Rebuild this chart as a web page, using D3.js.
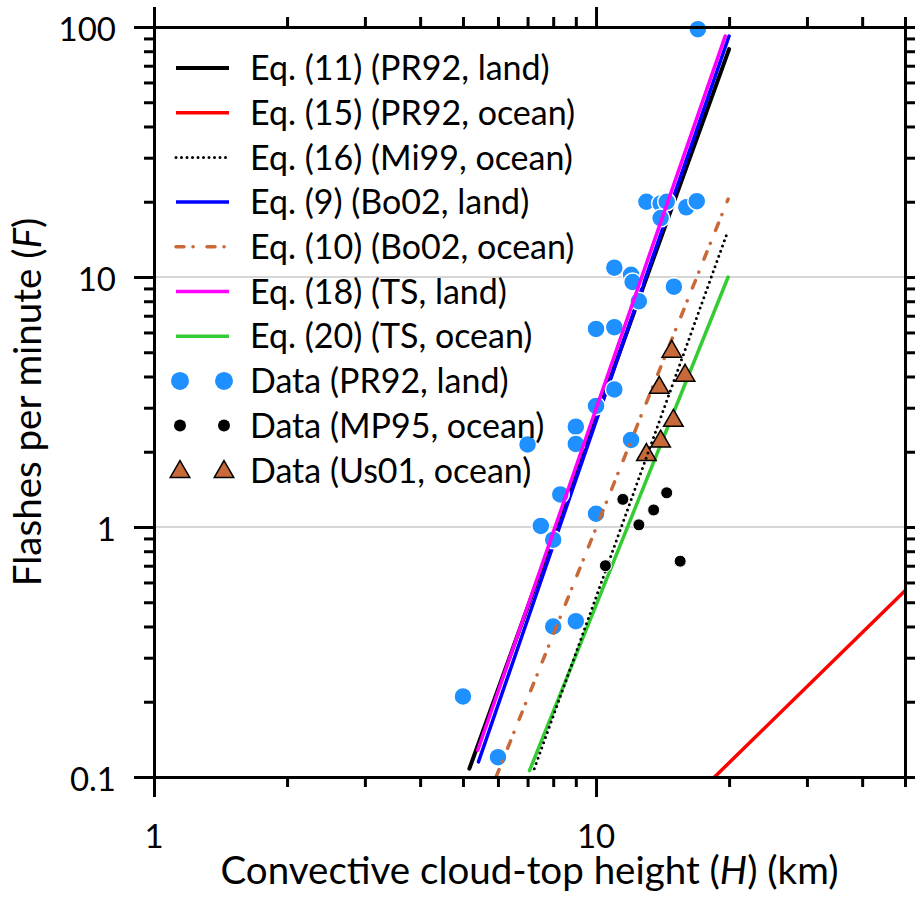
<!DOCTYPE html>
<html>
<head>
<meta charset="utf-8">
<script src="https://cdn.jsdelivr.net/npm/d3@7"></script>
<style>
  html, body { margin: 0; padding: 0; background: #fff; }
  svg { display: block; font-family: Lato, "Open Sans", sans-serif; }
</style>
</head>
<body>
<svg id="chart" width="915" height="913"></svg>
<script>
// ---------------- DATA ----------------
// Equation lines: endpoints [H (km), F (flashes/min)]
const eq11_PR92_land  = [[5.17, 0.108], [20.0, 81.6]];
const eq15_PR92_ocean = [[18.54, 0.1], [50.0, 0.556]];
const eq16_Mi99_ocean = [[7.25, 0.108], [19.8, 15.0]];
const eq9_Bo02_land   = [[5.42, 0.115], [20.0, 92.0]];
const eq10_Bo02_ocean = [[5.94, 0.1], [19.9, 20.5]];
const eq18_TS_land    = [[5.40, 0.128], [19.6, 92.0]];
const eq20_TS_ocean   = [[7.07, 0.106], [19.9, 10.0]];

// Data points
const dataPR92Land_H = [13.0, 14.0, 14.45, 14.0, 16.0, 16.9, 11.0, 12.0, 12.1, 12.5, 15.0, 10.0, 11.0,
                        11.0, 10.0, 9.0, 7.0, 9.0, 12.0, 8.3, 10.0, 7.5, 8.0, 8.0, 9.0, 5.0, 6.0, 17.0];
const dataPR92Land_F = [20.0, 19.7, 20.0, 17.2, 19.0, 20.1, 10.9, 10.2, 9.55, 8.0, 9.15, 6.2, 6.3,
                        3.55, 3.05, 2.52, 2.14, 2.15, 2.23, 1.35, 1.13, 1.01, 0.89, 0.40, 0.42, 0.21, 0.12, 98.0];
const dataMP95Ocean_H = [11.5, 14.45, 13.5, 12.5, 10.5, 15.5];
const dataMP95Ocean_F = [1.29, 1.37, 1.17, 1.02, 0.70, 0.73];
const dataUs01Ocean_H = [14.84, 13.9, 15.9, 14.96, 14.0, 13.0];
const dataUs01Ocean_F = [5.1, 3.66, 4.09, 2.70, 2.23, 1.97];

// Axis ticks
const xMajorTicks = [1, 10];
const xMinorTicks = [2, 3, 4, 5, 6, 7, 8, 9, 20, 30, 40, 50];
const yMajorTicks = [0.1, 1, 10, 100];
const yMinorTicks = [0.2, 0.3, 0.4, 0.5, 0.6, 0.7, 0.8, 0.9, 2, 3, 4, 5, 6, 7, 8, 9,
                     20, 30, 40, 50, 60, 70, 80, 90];
const xTickLabels = ["1", "10"];
const yTickLabels = ["0.1", "1", "10", "100"];
const gridValues = [1, 10];

const legendLabels = [
  "Eq. (11) (PR92, land)",
  "Eq. (15) (PR92, ocean)",
  "Eq. (16) (Mi99, ocean)",
  "Eq. (9) (Bo02, land)",
  "Eq. (10) (Bo02, ocean)",
  "Eq. (18) (TS, land)",
  "Eq. (20) (TS, ocean)",
  "Data (PR92, land)",
  "Data (MP95, ocean)",
  "Data (Us01, ocean)"
];

// ---------------- STYLES ----------------
const BROWN = "#c8693a";
const lineStyles = [
  { data: eq11_PR92_land,  color: "#000000", width: 4,   dash: null },
  { data: eq15_PR92_ocean, color: "#ff0000", width: 3.5, dash: null },
  { data: eq16_Mi99_ocean, color: "#000000", width: 3,   dash: "0,5.5" },
  { data: eq9_Bo02_land,   color: "#0000ff", width: 3.5, dash: null },
  { data: eq10_Bo02_ocean, color: BROWN,     width: 3.5, dash: "8,9,0.1,13.9" },
  { data: eq18_TS_land,    color: "#ff00ff", width: 3.5, dash: null },
  { data: eq20_TS_ocean,   color: "#33cc33", width: 3.5, dash: null }
];

// ---------------- LAYOUT ----------------
const svg = d3.select("#chart");
const pLeft = 154, pRight = 905, pTop = 27, pBottom = 777;
const x = d3.scaleLog().domain([1, 50]).range([pLeft, pRight]);
const y = d3.scaleLog().domain([0.1, 100]).range([pBottom, pTop]);

const FONT_TICK = 33, FONT_LEGEND = 34, FONT_TITLE = 38.5;

// grid
svg.append("g").selectAll("line").data(gridValues).join("line")
  .attr("x1", pLeft).attr("x2", pRight)
  .attr("y1", d => y(d)).attr("y2", d => y(d))
  .attr("stroke", "#c8c8c8").attr("stroke-width", 1.5);

// lines
const lineGen = d3.line().x(d => x(d[0])).y(d => y(d[1]));
const plot = svg.append("g");

function drawLine(s) {
  plot.append("path")
    .attr("d", lineGen(s.data))
    .attr("fill", "none")
    .attr("stroke", s.color)
    .attr("stroke-width", s.width)
    .attr("stroke-linecap", "round")
    .attr("stroke-dasharray", s.dash);
}

const blueData = dataPR92Land_H.map((h, i) => [h, dataPR92Land_F[i]]);
const blackData = dataMP95Ocean_H.map((h, i) => [h, dataMP95Ocean_F[i]]);
const triData = dataUs01Ocean_H.map((h, i) => [h, dataUs01Ocean_F[i]]);

drawLine(lineStyles[0]);
drawLine(lineStyles[3]);

plot.append("g").selectAll("circle").data(blueData).join("circle")
  .attr("cx", d => x(d[0])).attr("cy", d => y(d[1]))
  .attr("r", 9).attr("fill", "#1e90ff").attr("stroke", "#fff").attr("stroke-width", 1.5);

drawLine(lineStyles[5]);
drawLine(lineStyles[4]);
drawLine(lineStyles[6]);

const tri = d3.symbol(d3.symbolTriangle, 165);
plot.append("g").selectAll("path").data(triData).join("path")
  .attr("d", tri)
  .attr("transform", d => `translate(${x(d[0])},${y(d[1]) + 1.5})`)
  .attr("fill", BROWN).attr("stroke", "#000").attr("stroke-width", 1.5);

drawLine(lineStyles[2]);
drawLine(lineStyles[1]);

plot.append("g").selectAll("circle").data(blackData).join("circle")
  .attr("cx", d => x(d[0])).attr("cy", d => y(d[1]))
  .attr("r", 6).attr("fill", "#000").attr("stroke", "#fff").attr("stroke-width", 1);

// axes
function styleAxis(g) {
  g.selectAll("path.domain").attr("stroke", "#000").attr("stroke-width", 3).attr("stroke-linecap", "square");
  g.selectAll(".tick line").attr("stroke", "#000").attr("stroke-width", 3);
  g.selectAll(".tick text").remove();
}
function addAxis(axisFn, scale, ticks, size, tx, ty) {
  const a = axisFn(scale).tickValues(ticks).tickSize(size).tickSizeOuter(0).tickFormat("");
  svg.append("g").attr("transform", `translate(${tx},${ty})`).call(a).call(styleAxis);
}
addAxis(d3.axisBottom, x, xMinorTicks, 10, 0, pBottom);
addAxis(d3.axisBottom, x, xMajorTicks, 20, 0, pBottom);
addAxis(d3.axisTop, x, xMinorTicks, 10, 0, pTop);
addAxis(d3.axisTop, x, xMajorTicks, 20, 0, pTop);
addAxis(d3.axisLeft, y, yMinorTicks, 10, pLeft, 0);
addAxis(d3.axisLeft, y, yMajorTicks, 20, pLeft, 0);
addAxis(d3.axisRight, y, yMinorTicks, 10, pRight, 0);
addAxis(d3.axisRight, y, yMajorTicks, 20, pRight, 0);

// tick labels
svg.append("g").selectAll("text").data(xMajorTicks).join("text")
  .attr("x", d => x(d)).attr("y", 848)
  .attr("text-anchor", "middle").attr("font-size", FONT_TICK).attr("fill", "#000")
  .text((d, i) => xTickLabels[i]);
svg.append("g").selectAll("text").data(yMajorTicks).join("text")
  .attr("x", 116).attr("y", d => y(d) + 2)
  .attr("dy", "0.36em")
  .attr("text-anchor", "end").attr("font-size", FONT_TICK).attr("fill", "#000")
  .text((d, i) => yTickLabels[i]);

// axis titles
const xt = svg.append("text").attr("x", (pLeft + pRight) / 2).attr("y", 884)
  .attr("text-anchor", "middle").attr("font-size", FONT_TITLE).attr("fill", "#000");
xt.append("tspan").text("Convective cloud-top height (");
xt.append("tspan").attr("font-style", "italic").text("H");
xt.append("tspan").text(") (km)");

const yt = svg.append("text")
  .attr("transform", `translate(41,${(pTop + pBottom) / 2}) rotate(-90)`)
  .attr("text-anchor", "middle").attr("font-size", FONT_TITLE).attr("fill", "#000");
yt.append("tspan").text("Flashes per minute (");
yt.append("tspan").attr("font-style", "italic").text("F");
yt.append("tspan").text(")");

// legend
const legY0 = 68, legStep = 44.7;
const leg = svg.append("g");
legendLabels.forEach((lab, i) => {
  const cy = legY0 + i * legStep;
  if (i < lineStyles.length) {
    const s = lineStyles[i];
    leg.append("line").attr("x1", 176).attr("x2", 229).attr("y1", cy).attr("y2", cy)
      .attr("stroke", s.color).attr("stroke-width", s.width)
      .attr("stroke-linecap", s.dash ? "round" : "butt")
      .attr("stroke-dasharray", s.dash);
  } else if (i === 7) {
    [180, 224].forEach(cx => leg.append("circle").attr("cx", cx).attr("cy", cy)
      .attr("r", 9).attr("fill", "#1e90ff"));
  } else if (i === 8) {
    [180, 224].forEach(cx => leg.append("circle").attr("cx", cx).attr("cy", cy)
      .attr("r", 6).attr("fill", "#000"));
  } else {
    [180, 224].forEach(cx => leg.append("path").attr("d", tri)
      .attr("transform", `translate(${cx},${cy + 1.5})`)
      .attr("fill", BROWN).attr("stroke", "#000").attr("stroke-width", 1.5));
  }
  leg.append("text").attr("x", 250).attr("y", cy).attr("dy", "0.36em")
    .attr("font-size", FONT_LEGEND).attr("fill", "#000").text(lab);
});
</script>
</body>
</html>
